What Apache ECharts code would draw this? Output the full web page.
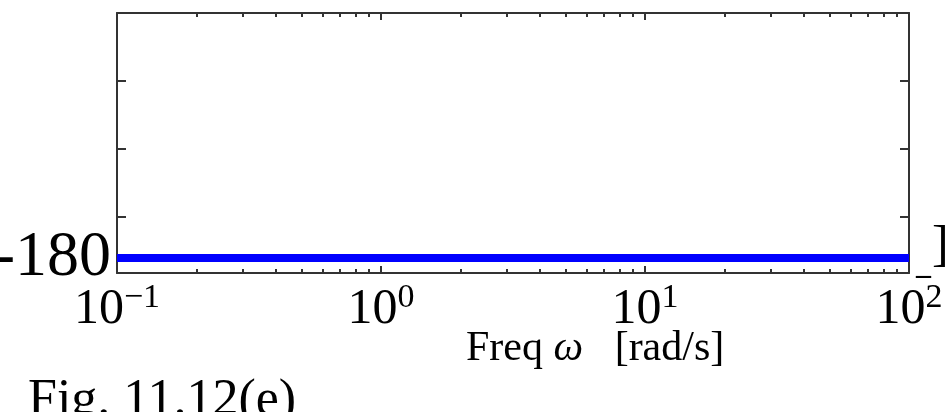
<!DOCTYPE html>
<html lang="en">
<head>
    <meta charset="UTF-8">
    <title>Fig. 11.12(e)</title>
    <script src="https://cdn.jsdelivr.net/npm/echarts@6.0.0/dist/echarts.min.js"></script>
    <style>
        html, body { margin: 0; padding: 0; background: #fff; }
        #chart { width: 951px; height: 412px; }
    </style>
</head>
<body>
    <div id="chart"></div>
    <script>
        // data
        const freq = [0.1, 1, 10, 100];
        const phase = [-180, -180, -180, -180];
        const xMajor = [0.1, 1, 10, 100];
        const xExp = ['\u22121', '0', '1', '2'];
        const xMinor = [0.2, 0.3, 0.4, 0.5, 0.6, 0.7, 0.8, 0.9,
                        2, 3, 4, 5, 6, 7, 8, 9,
                        20, 30, 40, 50, 60, 70, 80, 90];
        const yTicks = [-179.4, -178.4, -177.4];
        const yLabels = [-180];
        const yMin = -180.22, yMax = -176.4;

        const serif = 'Liberation Serif';
        const axisColor = '#333';

        function xAxisDef(pos, ticks, len, withLine, withLabel) {
            return {
                type: 'log', logBase: 10, position: pos,
                min: 0.1, max: 100,
                axisLine: { show: withLine, onZero: false, lineStyle: { color: axisColor, width: 2 } },
                axisTick: { show: true, inside: true, length: len, customValues: ticks,
                            lineStyle: { color: axisColor, width: 2 } },
                axisLabel: withLabel ? {
                    show: true, customValues: xMajor, margin: 8,
                    formatter: function (v) {
                        const i = xMajor.findIndex(m => Math.abs(m - v) < 1e-9);
                        return '{b|10}{s|' + (i >= 0 ? xExp[i] : '') + '}';
                    },
                    rich: {
                        b: { fontFamily: serif, fontSize: 50, lineHeight: 58, color: '#000' },
                        s: { fontFamily: serif, fontSize: 34, color: '#000', verticalAlign: 'top' }
                    }
                } : { show: false },
                splitLine: { show: false },
                minorTick: { show: false }
            };
        }

        function yAxisDef(pos, withLabel) {
            return {
                type: 'value', position: pos, min: yMin, max: yMax,
                axisLine: { show: true, onZero: false, lineStyle: { color: axisColor, width: 2 } },
                axisTick: { show: true, inside: true, length: 9, customValues: yTicks,
                            lineStyle: { color: axisColor, width: 2 } },
                axisLabel: withLabel ? {
                    show: true, customValues: yLabels, margin: 6,
                    fontFamily: serif, fontSize: 64, color: '#000',
                    formatter: v => '-' + Math.abs(Math.round(v))
                } : { show: false },
                splitLine: { show: false }
            };
        }

        const chart = echarts.init(document.getElementById('chart'), null, { renderer: 'canvas' });
        chart.setOption({
            animation: false,
            backgroundColor: '#fff',
            grid: { left: 117, right: 42, top: 13, bottom: 139, outerBoundsMode: 'none', containLabel: false },
            xAxis: [
                xAxisDef('bottom', xMajor, 7, true, true),
                xAxisDef('bottom', xMinor, 4, false, false),
                xAxisDef('top', xMajor, 7, true, false),
                xAxisDef('top', xMinor, 4, false, false)
            ],
            yAxis: [
                yAxisDef('left', true),
                yAxisDef('right', false)
            ],
            series: [{
                type: 'line',
                xAxisIndex: 0, yAxisIndex: 0,
                data: freq.map((f, i) => [f, phase[i]]),
                showSymbol: false,
                lineStyle: { color: '#0000ff', width: 8 }
            }],
            graphic: [
                { type: 'text', left: 466, top: 328,
                  style: { text: 'Freq {i|\u03c9}   [rad/s]',
                           font: '42px "Liberation Serif"', fill: '#000',
                           rich: { i: { fontFamily: serif, fontStyle: 'italic', fontSize: 42 } } } },
                { type: 'text', left: 28, top: 375,
                  style: { text: 'Fig. 11.12(e)', font: '52px "Liberation Serif"', fill: '#000' } },
                { type: 'text', left: 916, top: 261,
                  style: { text: '\u2013', font: 'bold 30px "Liberation Serif"', fill: '#000' } },
                { type: 'text', left: 932, top: 222,
                  style: { text: ']', font: '50px "Liberation Serif"', fill: '#000' } }
            ]
        });
    </script>
</body>
</html>
